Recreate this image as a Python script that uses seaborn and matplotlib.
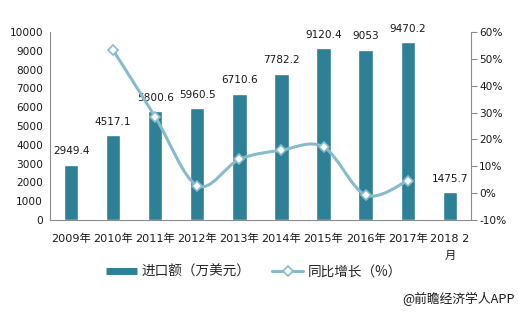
import matplotlib
matplotlib.use("Agg")
import matplotlib.pyplot as plt
import seaborn as sns
import pandas as pd
import numpy as np
from matplotlib.path import Path
from matplotlib.patches import PathPatch
from matplotlib.lines import Line2D

categories = ["2009年", "2010年", "2011年", "2012年", "2013年", "2014年",
              "2015年", "2016年", "2017年", "2018 2\n月"]
import_values = [2949.4, 4517.1, 5800.6, 5960.5, 6710.6, 7782.2, 9120.4, 9053, 9470.2, 1475.7]
growth_values = [None, 53.2, 28.4, 2.8, 12.6, 16.0, 17.2, -0.7, 4.6, None]
value_labels = ["2949.4", "4517.1", "5800.6", "5960.5", "6710.6", "7782.2", "9120.4", "9053", "9470.2", "1475.7"]

sns.set_theme(style="white")
plt.rcParams['font.family'] = ['DejaVu Sans', 'Noto Sans CJK SC']

BAR_C = "#2E8097"
LINE_C = "#86BBCC"
FS = 7.6
TXT_C = "#1a1a1a"
CJK = ["Noto Sans CJK SC", "DejaVu Sans"]

fig = plt.figure(figsize=(5.18, 3.13), dpi=100)
ax = fig.add_axes([0.0965, 0.297, 0.8125, 0.601])

df = pd.DataFrame({"cat": categories, "val": import_values})
sns.barplot(data=df, x="cat", y="val", color=BAR_C, width=0.34, ax=ax, saturation=1)
ax.set_xlim(-0.5, 9.5)
ax.set_ylim(0, 10000)
ax.set_yticks(range(0, 10001, 1000))
ax.set_xlabel("")
ax.set_ylabel("")
ax.tick_params(axis="y", labelsize=FS, colors=TXT_C, length=0, pad=5)
ax.tick_params(axis="x", labelsize=8.1, colors=TXT_C, length=0, pad=10)
for t in ax.get_xticklabels():
    t.set_linespacing(1.9)
    t.set_verticalalignment("top")
for s in ["top", "right"]:
    ax.spines[s].set_visible(False)
for s in ["left", "bottom"]:
    ax.spines[s].set_color("#8c8c8c")
    ax.spines[s].set_linewidth(0.8)

for i, (v, lab) in enumerate(zip(import_values, value_labels)):
    ax.annotate(lab, (i, v), xytext=(0, 6), textcoords="offset points",
                ha="center", va="bottom", fontsize=FS, color=TXT_C)

ax2 = ax.twinx()
ax2.set_ylim(-10, 60)
ax2.set_yticks(range(-10, 61, 10))
ax2.set_yticklabels([f"{t}%" for t in range(-10, 61, 10)])
ax2.tick_params(axis="y", labelsize=FS, labelcolor=TXT_C, color="#8c8c8c", length=4, width=0.8, pad=2)
for s in ["top", "left", "bottom"]:
    ax2.spines[s].set_visible(False)
ax2.spines["right"].set_color("#8c8c8c")
ax2.spines["right"].set_linewidth(0.8)
ax2.grid(False)
ax.grid(False)

# smooth curve (Catmull-Rom -> cubic Bezier) through the growth points
pts = [(i, g) for i, g in enumerate(growth_values) if g is not None]
P = np.array(pts, dtype=float)
verts = [tuple(P[0])]
codes = [Path.MOVETO]
n = len(P)
for k in range(n - 1):
    p0 = P[k - 1] if k > 0 else P[k]
    p1 = P[k]
    p2 = P[k + 1]
    p3 = P[k + 2] if k + 2 < n else P[k + 1]
    c1 = p1 + (p2 - p0) / 6.0
    c2 = p2 - (p3 - p1) / 6.0
    verts += [tuple(c1), tuple(c2), tuple(p2)]
    codes += [Path.CURVE4] * 3
ax2.add_patch(PathPatch(Path(verts, codes), facecolor="none", edgecolor=LINE_C, lw=2.2, zorder=3))
ax2.plot(P[:, 0], P[:, 1], linestyle="none", marker="D", markersize=5,
         markerfacecolor="white", markeredgecolor=LINE_C, markeredgewidth=1.2, zorder=4)

h1 = Line2D([0], [0], color=BAR_C, lw=5, solid_capstyle="butt")
h2 = Line2D([0], [0], color=LINE_C, lw=2.2, marker="D", markersize=5,
            markerfacecolor="white", markeredgecolor=LINE_C, markeredgewidth=1.2)
leg = fig.legend([h1, h2], ["进口额（万美元）", "同比增长（%）"], loc="center",
                 bbox_to_anchor=(0.49, 0.132), ncol=2, frameon=False,
                 prop={"family": CJK, "size": 9.8},
                 handlelength=2.3, columnspacing=1.6, handletextpad=0.3)

fig.text(0.994, 0.045, "@前瞻经济学人APP", ha="right", va="center", fontsize=9.2,
         color=TXT_C, family=CJK)

fig.savefig("out.png", dpi=100)
